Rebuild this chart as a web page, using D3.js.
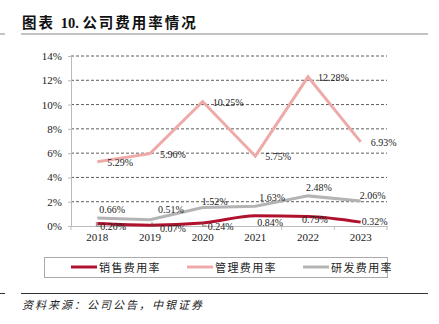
<!DOCTYPE html>
<html><head><meta charset="utf-8">
<script src="https://cdn.jsdelivr.net/npm/d3@7"></script>
<style>body{margin:0;background:#fff}svg{display:block}</style>
</head><body>
<script>
const years = ["2018","2019","2020","2021","2022","2023"];
const sales = [0.20,0.07,0.24,0.84,0.79,0.32];
const admin = [5.29,5.96,10.25,5.75,12.28,6.93];
const rnd = [0.66,0.51,1.52,1.63,2.48,2.06];
const yTicks = [0,2,4,6,8,10,12,14];
const seriesNames = ["销售费用率","管理费用率","研发费用率"];
const colors = ["#b0122e","#eeaaa8","#b4b4b4"];

const W=439,H=324;
const svg=d3.select("body").append("svg").attr("width",W).attr("height",H);
const serif='"Liberation Serif","Times New Roman",serif';
const cjk='"Noto Sans CJK SC",sans-serif';

// title
const tt=svg.append("text").attr("x",22).attr("y",28).attr("font-family",serif+',"Noto Sans CJK SC"')
  .attr("font-weight","bold").attr("font-size",14.5).attr("fill","#111");
tt.append("tspan").attr("letter-spacing",2).text("图表 ");
tt.append("tspan").attr("letter-spacing",0).text("10. ");
tt.append("tspan").attr("letter-spacing",2).text("公司费用率情况");
svg.append("line").attr("x1",21).attr("x2",428).attr("y1",34).attr("y2",34).attr("stroke","#888").attr("stroke-width",1.2);
svg.append("line").attr("x1",0).attr("x2",5).attr("y1",34).attr("y2",34).attr("stroke","#888").attr("stroke-width",1);

const x=d3.scaleBand().domain(years).range([71,387]);
const y=d3.scaleLinear().domain([0,14]).range([226,56]);
const cx=d=>x(d)+x.bandwidth()/2;

// grid
svg.append("g").selectAll("line").data(yTicks.filter(t=>t>0)).join("line")
  .attr("x1",71).attr("x2",387).attr("y1",d=>y(d)).attr("y2",d=>y(d))
  .attr("stroke","#333").attr("stroke-width",0.8).attr("stroke-dasharray","3,2");

// y axis
const ya=svg.append("g").attr("transform","translate(71,0)")
  .call(d3.axisLeft(y).tickValues(yTicks).tickSize(3).tickFormat(d=>d+"%"));
ya.select(".domain").attr("stroke","#bbb");
ya.selectAll(".tick line").attr("stroke","#bbb");
ya.selectAll("text").attr("font-family",serif).attr("font-size",11).attr("fill","#222").attr("x",-9);

// x axis
const xa=svg.append("g").attr("transform","translate(0,226)")
  .call(d3.axisBottom(x).tickSize(0).tickPadding(7));
xa.select(".domain").attr("stroke","#bbb");
xa.selectAll("text").attr("font-family",serif).attr("font-size",11).attr("fill","#222");
svg.append("g").selectAll("line").data(d3.range(years.length+1)).join("line")
  .attr("x1",i=>71+i*x.bandwidth()).attr("x2",i=>71+i*x.bandwidth())
  .attr("y1",226).attr("y2",230).attr("stroke","#bbb");

const series=[sales,admin,rnd];
const curves=[d3.curveMonotoneX,d3.curveLinear,d3.curveLinear];
[2,1,0].forEach(si=>{
  const line=d3.line().x((d,i)=>cx(years[i])).y(d=>y(d)).curve(curves[si]);
  svg.append("path").datum(series[si]).attr("d",line).attr("fill","none")
    .attr("stroke",colors[si]).attr("stroke-width",3);
});

// labels
function lab(data,offs){
  svg.append("g").selectAll("text").data(data).join("text")
    .attr("x",(d,i)=>cx(years[i])+offs[i][0]).attr("y",(d,i)=>offs[i][1])
    .attr("font-family",serif).attr("font-size",10).attr("fill","#222")
    .text(d=>d.toFixed(2)+"%");
}
lab(admin,admin.map(v=>[10,y(v)+4]));
lab(rnd,[[2,213],[8,213],[-1,205],[4,201],[-2,191],[-1,199]]);
lab(sales,[[3,230],[10,232],[5,230],[2,226],[-6,223],[1,225]]);
[[0,-1],[1,2],[2,0]].forEach(([i,dx])=>{
  const px=cx(years[i])+dx;
  svg.append("path").attr("d",`M${px},${222}V${226}H${px+4}`).attr("fill","none").attr("stroke","#555").attr("stroke-width",0.7);
});

// legend
svg.append("rect").attr("x",44.5).attr("y",257.5).attr("width",343).attr("height",20)
  .attr("fill","none").attr("stroke","#aaa").attr("stroke-width",1);
const lx=[71,187,303];
seriesNames.forEach((n,i)=>{
  svg.append("line").attr("x1",lx[i]).attr("x2",lx[i]+26).attr("y1",267).attr("y2",267)
    .attr("stroke",colors[i]).attr("stroke-width",3);
  svg.append("text").attr("x",lx[i]+28).attr("y",271.5).attr("font-family",cjk).attr("font-size",11)
    .attr("letter-spacing",1.4).attr("fill","#222").text(n);
});

// footer
svg.append("line").attr("x1",21).attr("x2",428).attr("y1",293.5).attr("y2",293.5).attr("stroke","#333").attr("stroke-width",1);
svg.append("line").attr("x1",0).attr("x2",5).attr("y1",293.5).attr("y2",293.5).attr("stroke","#333").attr("stroke-width",1);
svg.append("text").attr("x",22).attr("y",309).attr("font-family",cjk).attr("font-size",11)
  .attr("font-style","italic").attr("letter-spacing",2).attr("fill","#222").text("资料来源：公司公告，中银证券");
</script>
</body></html>
